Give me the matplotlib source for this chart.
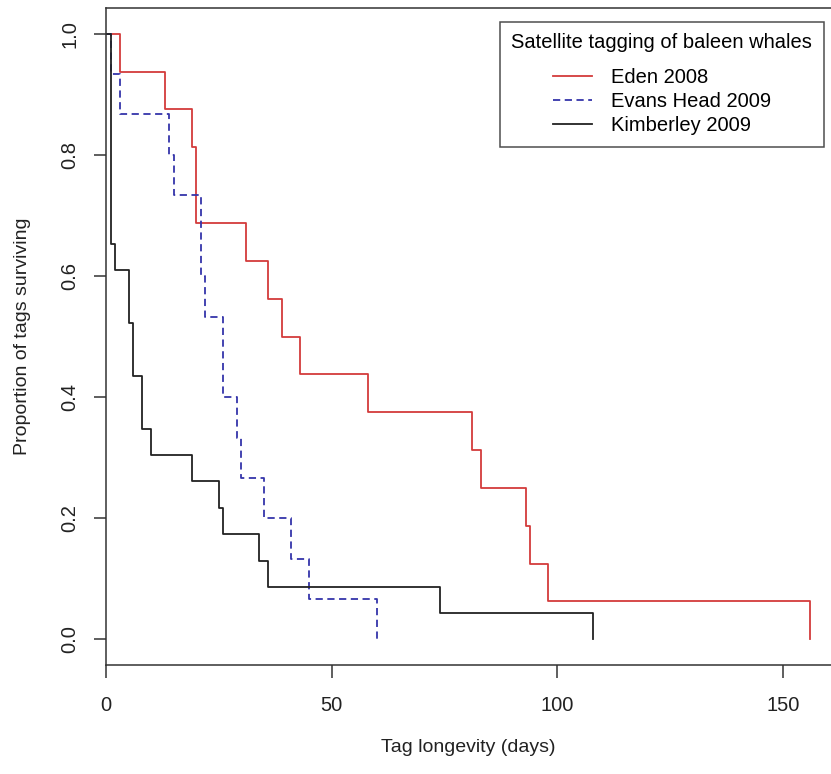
import matplotlib
matplotlib.use("Agg")
import matplotlib.pyplot as plt

# Kaplan-Meier style tag survival
eden_days = [0, 3, 13, 19, 20, 31, 36, 39, 43, 58, 81, 83, 93, 94, 98, 156]
eden_surv = [1.0, 0.9375, 0.875, 0.8125, 0.6875, 0.625, 0.5625, 0.5, 0.4375,
             0.375, 0.3125, 0.25, 0.1875, 0.125, 0.0625, 0.0]

evans_days = [0, 1, 3, 14, 15, 21, 22, 26, 29, 30, 35, 41, 45, 60]
evans_surv = [1.0, 0.933, 0.867, 0.8, 0.733, 0.6, 0.533, 0.4, 0.333, 0.267,
              0.2, 0.133, 0.067, 0.0]

kimb_days = [0, 1, 2, 5, 6, 8, 10, 19, 25, 26, 34, 36, 74, 108]
kimb_surv = [1.0, 0.652, 0.609, 0.522, 0.435, 0.348, 0.304, 0.261, 0.217,
             0.174, 0.130, 0.087, 0.043, 0.0]

x_ticks = [0, 50, 100, 150]
y_ticks = [0.0, 0.2, 0.4, 0.6, 0.8, 1.0]

plt.rcParams["font.family"] = ["Liberation Sans", "DejaVu Sans"]

W, H = 831, 774
fig = plt.figure(figsize=(W / 100, H / 100), dpi=100)
# axes box in pixels: left 106, top 8, bottom 665, right runs off the image
left, top, bottom, right = 106, 8, 665, 839
ax = fig.add_axes([left / W, 1 - bottom / H, (right - left) / W, (bottom - top) / H])

ax.step(eden_days, eden_surv, where="post", color="#d33b3b", lw=1.3,
        label="Eden 2008")
ax.step(evans_days, evans_surv, where="post", color="#3535aa", lw=1.3,
        dashes=(4, 2.5), label="Evans Head 2009")
ax.step(kimb_days, kimb_surv, where="post", color="#222222", lw=1.3,
        label="Kimberley 2009")

ax.set_xlim(0, (right - left) / 4.513)
ax.set_ylim(-0.0424, 1.0424)
ax.set_xticks(x_ticks)
ax.set_yticks(y_ticks)
ax.set_xticklabels([str(t) for t in x_ticks])
ax.set_yticklabels([f"{t:.1f}" for t in y_ticks], rotation=90, va="center")

for sp in ax.spines.values():
    sp.set_linewidth(1.1)
    sp.set_color("#333333")
ax.tick_params(axis="both", length=9, width=1.1, color="#333333",
               labelsize=14.5, labelcolor="#222222")
ax.tick_params(axis="x", pad=13)
ax.tick_params(axis="y", pad=10)

ax.set_xlabel("Tag longevity (days)", fontsize=14, color="#222222")
ax.set_ylabel("Proportion of tags surviving", fontsize=14, color="#222222")
ax.xaxis.set_label_coords((468 - left) / (right - left), -(748 - bottom) / (bottom - top))
ax.xaxis.label.set_va("center")
ax.yaxis.set_label_coords(-(left - 22) / (right - left), 0.5)
ax.yaxis.label.set_va("center")

leg = ax.legend(title="Satellite tagging of baleen whales", loc="upper right",
                bbox_to_anchor=((824 - left) / (right - left), 1 - (21.7 - top) / (bottom - top)),
                fontsize=14.5, title_fontsize=14.5, frameon=True, fancybox=False,
                borderaxespad=0, handlelength=1.95, handletextpad=0.92,
                labelspacing=0.26, borderpad=0.58)
leg.get_frame().set_edgecolor("#222222")
leg.get_frame().set_linewidth(1.1)
leg._legend_box.align = "center"
leg._legend_box.sep = 11

fig.savefig("out.png", dpi=100)
